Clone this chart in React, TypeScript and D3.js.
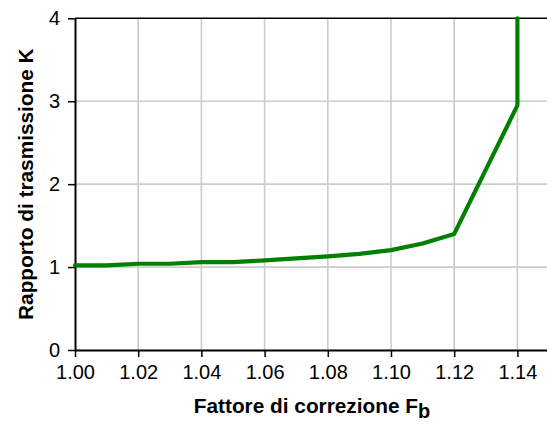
import React, { useEffect, useRef } from "react";
import * as d3 from "d3";

// Fattore di correzione Fb vs rapporto di trasmissione K
const fattore = [1.0, 1.01, 1.02, 1.03, 1.04, 1.05, 1.06, 1.07, 1.08, 1.09, 1.1, 1.11, 1.12, 1.14, 1.14];
const rapporto = [1.02, 1.02, 1.04, 1.04, 1.06, 1.06, 1.08, 1.105, 1.13, 1.16, 1.205, 1.285, 1.4, 2.95, 4.0];

const xTicks = [1.0, 1.02, 1.04, 1.06, 1.08, 1.1, 1.12, 1.14];
const yTicks = [0, 1, 2, 3, 4];

const W = 547;
const H = 425;
const margin = { top: 18.3, right: -2, bottom: 75, left: 75 };

const App: React.FC = () => {
  const svgRef = useRef<SVGSVGElement>(null);

  useEffect(() => {
    if (!svgRef.current) return;
    const svg = d3.select(svgRef.current);
    svg.selectAll("*").remove();

    const x = d3
      .scaleLinear()
      .domain([1.0, 1.15])
      .range([margin.left, W - margin.right]);
    const y = d3
      .scaleLinear()
      .domain([0, 4])
      .range([H - margin.bottom, margin.top]);

    const font = "'Liberation Sans', Arial, sans-serif";

    // grid
    const grid = svg.append("g").attr("stroke", "#cccccc").attr("stroke-width", 1.6);
    xTicks.slice(1).forEach((t) => {
      grid
        .append("line")
        .attr("x1", x(t))
        .attr("x2", x(t))
        .attr("y1", y(0))
        .attr("y2", y(4));
    });
    yTicks.slice(1, -1).forEach((t) => {
      grid
        .append("line")
        .attr("x1", x(1.0))
        .attr("x2", x(1.15))
        .attr("y1", y(t))
        .attr("y2", y(t));
    });

    // top border
    svg
      .append("line")
      .attr("x1", x(1.0))
      .attr("x2", x(1.15))
      .attr("y1", y(4))
      .attr("y2", y(4))
      .attr("stroke", "#000")
      .attr("stroke-width", 1.5);

    // axes
    const xAxis = svg
      .append("g")
      .attr("transform", `translate(0,${y(0)})`)
      .call(d3.axisBottom(x).tickValues(xTicks).tickSize(7).tickSizeOuter(0).tickPadding(8).tickFormat(d3.format(".2f")));
    const yAxis = svg
      .append("g")
      .attr("transform", `translate(${x(1.0)},0)`)
      .call(d3.axisLeft(y).tickValues(yTicks).tickSize(7).tickSizeOuter(0).tickPadding(8).tickFormat(d3.format("d")));

    [xAxis, yAxis].forEach((a) => {
      a.select(".domain").attr("stroke", "#000").attr("stroke-width", 2);
      a.selectAll(".tick line").attr("stroke", "#000").attr("stroke-width", 1.5);
      a.selectAll(".tick text").attr("font-family", font).attr("font-size", 20).attr("fill", "#000");
    });

    // series
    const line = d3
      .line<number>()
      .x((_, i) => x(fattore[i]))
      .y((d) => y(d));

    svg
      .append("path")
      .datum(rapporto)
      .attr("d", line)
      .attr("fill", "none")
      .attr("stroke", "#008000")
      .attr("stroke-width", 4.2)
      .attr("stroke-linejoin", "round")
      .attr("stroke-linecap", "round");

    // titles
    const xt = svg
      .append("text")
      .attr("x", (x(1.0) + x(1.15)) / 2)
      .attr("y", 413)
      .attr("text-anchor", "middle")
      .attr("font-family", font)
      .attr("font-weight", "bold")
      .attr("font-size", 20.8)
      .text("Fattore di correzione F");
    xt.append("tspan").attr("dy", 5).attr("font-size", 20).text("b");

    svg
      .append("text")
      .attr("transform", `translate(33,${(y(0) + y(4)) / 2}) rotate(-90)`)
      .attr("text-anchor", "middle")
      .attr("font-family", font)
      .attr("font-weight", "bold")
      .attr("font-size", 20.8)
      .text("Rapporto di trasmissione K");
  }, []);

  return (
    <svg
      ref={svgRef}
      width={W}
      height={H}
      style={{ position: "absolute", left: 0, top: 0, background: "#fff" }}
    />
  );
};

export default App;
